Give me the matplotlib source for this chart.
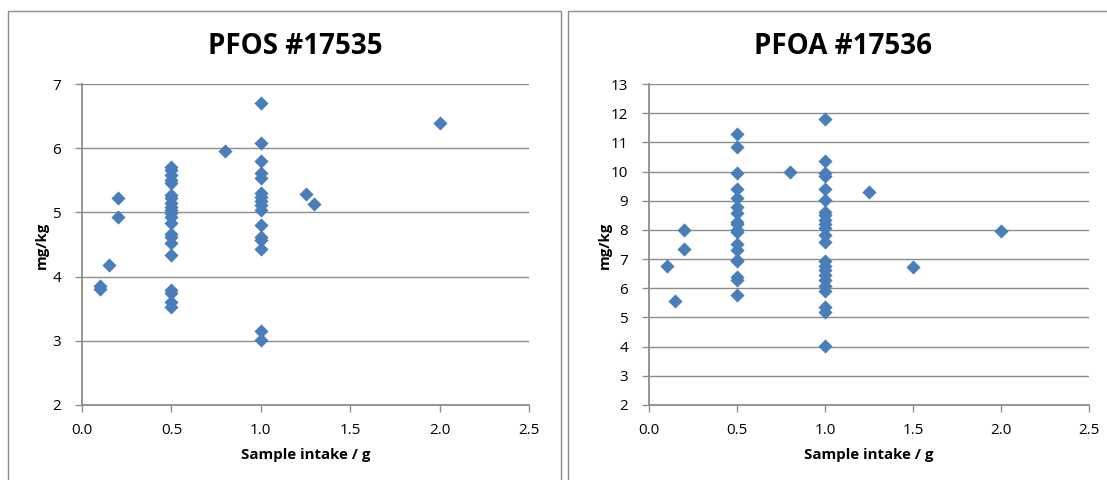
import numpy as np
import matplotlib.pyplot as plt
from matplotlib.patches import Rectangle

# PFOS #17535
pfos_x = [0.1, 0.1, 0.15, 0.2, 0.2,
          0.5, 0.5, 0.5, 0.5, 0.5, 0.5, 0.5, 0.5, 0.5, 0.5, 0.5,
          0.5, 0.5, 0.5, 0.5, 0.5, 0.5, 0.5, 0.5, 0.5, 0.5,
          0.8,
          1.0, 1.0, 1.0, 1.0, 1.0, 1.0, 1.0, 1.0, 1.0, 1.0, 1.0,
          1.0, 1.0, 1.0, 1.0, 1.0,
          1.25, 1.3, 2.0]
pfos_y = [3.86, 3.80, 4.18, 5.22, 4.93,
          5.70, 5.66, 5.58, 5.50, 5.46, 5.27, 5.22, 5.14, 5.09, 5.04, 4.99,
          4.93, 4.83, 4.67, 4.62, 4.53, 4.34, 3.79, 3.74, 3.61, 3.53,
          5.95,
          6.70, 6.08, 5.80, 5.61, 5.53, 5.30, 5.24, 5.17, 5.12, 5.04, 4.81,
          4.62, 4.57, 4.43, 3.16, 3.01,
          5.28, 5.13, 6.40]

# PFOA #17536
pfoa_x = [0.1, 0.15, 0.2, 0.2,
          0.5, 0.5, 0.5, 0.5, 0.5, 0.5, 0.5, 0.5, 0.5, 0.5, 0.5, 0.5,
          0.5, 0.5, 0.5, 0.5, 0.5, 0.5,
          0.8,
          1.0, 1.0, 1.0, 1.0, 1.0, 1.0, 1.0, 1.0, 1.0, 1.0, 1.0, 1.0,
          1.0, 1.0, 1.0, 1.0, 1.0, 1.0, 1.0, 1.0, 1.0, 1.0, 1.0,
          1.25, 1.5, 2.0]
pfoa_y = [6.78, 5.58, 7.98, 7.33,
          11.29, 10.83, 9.96, 9.39, 9.09, 8.78, 8.58, 8.27, 8.19, 8.01,
          7.92, 7.52, 7.30, 6.98, 6.92, 6.38, 6.29, 5.77,
          9.97,
          11.79, 10.37, 9.96, 9.86, 9.39, 9.04, 8.62, 8.50, 8.33, 8.19,
          8.08, 7.81, 7.57, 6.92, 6.75, 6.63, 6.47, 6.27, 6.09, 5.92,
          5.37, 5.18, 4.02,
          9.31, 6.72, 7.97]

titles = ['PFOS #17535', 'PFOA #17536']
ylims = [(2, 7), (2, 13)]

W, H = 1107, 480
fig = plt.figure(figsize=(W / 100, H / 100), dpi=100)
plt.rcParams['font.family'] = ['Open Sans', 'DejaVu Sans']

grey = '#8c8c8c'
blue = '#4a7ebb'

# chart frames
fig.patches.append(Rectangle((8 / W, -0.1), (561 - 8) / W, 1.1 - 11 / H,
                             transform=fig.transFigure, fill=False,
                             edgecolor=grey, lw=1.0))
fig.patches.append(Rectangle((568 / W, -0.1), 0.6, 1.1 - 11 / H,
                             transform=fig.transFigure, fill=False,
                             edgecolor=grey, lw=1.0))

panels = [
    # axes left, right (px), title center x, ylabel x
    (82, 529, 295, 42),
    (649, 1089, 843, 605),
]
data = [(pfos_x, pfos_y), (pfoa_x, pfoa_y)]

for (l, r, tx, yx), (xs, ys), title, yl in zip(panels, data, titles, ylims):
    ax = fig.add_axes([l / W, 1 - 405 / H, (r - l) / W, (405 - 84) / H])
    ax.scatter(xs, ys, marker='D', s=52, color=blue, zorder=3, linewidths=0)
    ax.set_xlim(0, 2.5)
    ax.set_ylim(*yl)
    ax.set_xticks(np.arange(0, 2.51, 0.5))
    ax.set_xticklabels([f'{v:.1f}' for v in np.arange(0, 2.51, 0.5)])
    ax.set_yticks(np.arange(yl[0], yl[1] + 1, 1))
    ax.grid(axis='y', color=grey, lw=1.0)
    ax.set_axisbelow(True)
    for side in ['top', 'right']:
        ax.spines[side].set_visible(False)
    for side in ['left', 'bottom']:
        ax.spines[side].set_color(grey)
        ax.spines[side].set_linewidth(1.3)
    ax.tick_params(axis='both', color=grey, length=5, width=1.0,
                   labelsize=11, labelcolor='black')
    ax.tick_params(axis='y', pad=10)
    ax.tick_params(axis='x', pad=8)
    fig.text(tx / W, 1 - 47 / H, title, ha='center', va='center',
             fontsize=20, fontweight='bold')
    fig.text((l + r) / 2 / W, 1 - 455 / H, 'Sample intake / g',
             ha='center', va='center', fontsize=10.8, fontweight='bold')
    fig.text(yx / W, 1 - 245 / H, 'mg/kg', ha='center', va='center',
             rotation=90, fontsize=10.8, fontweight='bold')

fig.savefig('out.png', dpi=100)
